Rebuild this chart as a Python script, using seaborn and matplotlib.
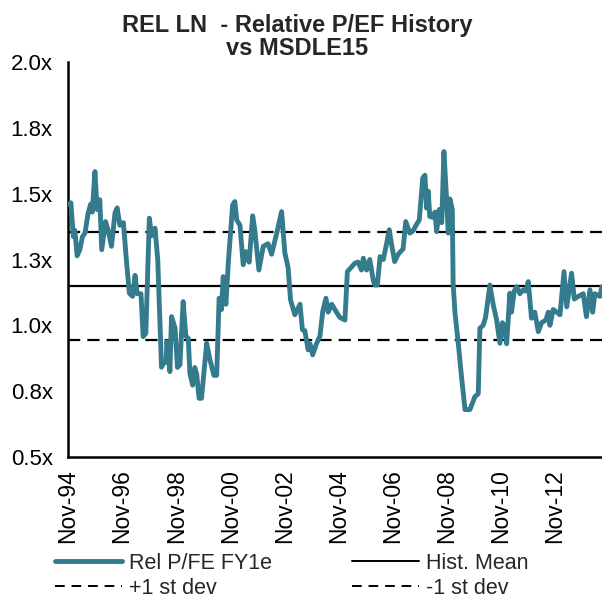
import numpy as np
import pandas as pd
import matplotlib
matplotlib.use("Agg")
import matplotlib.pyplot as plt
from matplotlib.lines import Line2D
import seaborn as sns

# ---------------- data ----------------
# dates as fractional years
dates_dec = [
    1994.84, 1994.94, 1995.03, 1995.09, 1995.17, 1995.27, 1995.37, 1995.46, 1995.58, 1995.67,
    1995.73, 1995.83, 1995.91, 1996.01, 1996.08, 1996.22, 1996.32, 1996.44, 1996.57, 1996.65,
    1996.75, 1996.88, 1997.00, 1997.10, 1997.22, 1997.31, 1997.39, 1997.53, 1997.61, 1997.71,
    1997.84, 1997.92, 1998.05, 1998.15, 1998.29, 1998.38, 1998.46, 1998.49, 1998.60, 1998.66,
    1998.79, 1998.88, 1998.97, 1999.09, 1999.19, 1999.28, 1999.34, 1999.44, 1999.52, 1999.59,
    1999.68, 1999.77, 1999.96, 2000.08, 2000.23, 2000.33, 2000.42, 2000.51, 2000.57, 2000.67,
    2000.76, 2000.92, 2001.00, 2001.07, 2001.19, 2001.31, 2001.41, 2001.53, 2001.66, 2001.74,
    2001.89, 2002.05, 2002.23, 2002.36, 2002.55, 2002.73, 2002.85, 2002.97, 2003.06, 2003.22,
    2003.41, 2003.50, 2003.59, 2003.71, 2003.78, 2003.88, 2004.02, 2004.15, 2004.25, 2004.37,
    2004.45, 2004.58, 2004.76, 2004.88, 2005.07, 2005.16, 2005.44, 2005.56, 2005.68, 2005.75,
    2005.87, 2005.99, 2006.12, 2006.18, 2006.27, 2006.37, 2006.49, 2006.61, 2006.71, 2006.79,
    2006.91, 2007.04, 2007.22, 2007.32, 2007.47, 2007.60, 2007.70, 2007.82, 2007.95, 2008.03,
    2008.09, 2008.15, 2008.21, 2008.34, 2008.40, 2008.46, 2008.56, 2008.65, 2008.73, 2008.83,
    2008.89, 2008.95, 2009.04, 2009.07, 2009.14, 2009.26, 2009.38, 2009.51, 2009.69, 2009.88,
    2010.00, 2010.06, 2010.18, 2010.27, 2010.43, 2010.55, 2010.68, 2010.80, 2010.89, 2010.96,
    2011.05, 2011.17, 2011.23, 2011.33, 2011.42, 2011.54, 2011.66, 2011.76, 2011.85, 2011.97,
    2012.09, 2012.22, 2012.34, 2012.50, 2012.59, 2012.65, 2012.77, 2012.90, 2013.02, 2013.17,
    2013.27, 2013.45, 2013.55, 2013.70, 2013.88, 2014.00, 2014.13, 2014.23, 2014.31, 2014.50,
    2014.57,
]
rel_pe = [
    1.460, 1.465, 1.337, 1.360, 1.264, 1.287, 1.337, 1.350, 1.427, 1.460,
    1.430, 1.584, 1.440, 1.477, 1.287, 1.394, 1.360, 1.300, 1.427, 1.446,
    1.380, 1.390, 1.236, 1.122, 1.110, 1.190, 1.120, 1.120, 0.957, 0.970,
    1.407, 1.340, 1.369, 1.250, 0.841, 0.860, 0.860, 0.938, 0.824, 1.033,
    0.990, 0.840, 0.850, 1.090, 0.960, 0.950, 0.818, 0.773, 0.840, 0.815,
    0.723, 0.723, 0.932, 0.870, 0.810, 0.810, 1.103, 1.060, 1.185, 1.080,
    1.240, 1.458, 1.470, 1.400, 1.380, 1.230, 1.280, 1.240, 1.416, 1.360,
    1.210, 1.300, 1.310, 1.270, 1.350, 1.432, 1.275, 1.220, 1.097, 1.040,
    1.080, 0.983, 0.980, 0.907, 0.930, 0.888, 0.930, 0.960, 1.052, 1.103,
    1.050, 1.080, 1.050, 1.030, 1.020, 1.204, 1.236, 1.240, 1.210, 1.255,
    1.210, 1.250, 1.170, 1.153, 1.153, 1.261, 1.250, 1.310, 1.363, 1.310,
    1.242, 1.270, 1.290, 1.394, 1.350, 1.360, 1.380, 1.400, 1.560, 1.570,
    1.445, 1.510, 1.413, 1.410, 1.430, 1.356, 1.440, 1.390, 1.660, 1.477,
    1.350, 1.480, 1.440, 1.160, 1.046, 0.932, 0.805, 0.680, 0.680, 0.730,
    0.740, 0.989, 1.000, 1.030, 1.153, 1.080, 1.020, 0.932, 1.010, 1.000,
    0.930, 1.122, 1.050, 1.130, 1.147, 1.120, 1.135, 1.130, 1.166, 1.027,
    1.050, 0.976, 1.010, 1.020, 1.050, 1.000, 1.060, 1.050, 1.040, 1.204,
    1.070, 1.198, 1.100, 1.110, 1.120, 1.033, 1.135, 1.050, 1.120, 1.110,
    1.147,
]
hist_mean = 1.150
plus_1sd = 1.356
minus_1sd = 0.944

y_ticks = [0.5, 0.75, 1.0, 1.25, 1.5, 1.75, 2.0]
y_tick_labels = ["0.5x", "0.8x", "1.0x", "1.3x", "1.5x", "1.8x", "2.0x"]
x_tick_dates = [1994.833, 1996.833, 1998.833, 2000.833, 2002.833,
                2004.833, 2006.833, 2008.833, 2010.833, 2012.833]
x_tick_labels = ["Nov-94", "Nov-96", "Nov-98", "Nov-00", "Nov-02",
                 "Nov-04", "Nov-06", "Nov-08", "Nov-10", "Nov-12"]
x_start_dec = 1994.833
x_end_dec = 2014.575

title = "REL LN  - Relative P/EF History\nvs MSDLE15"
series_labels = ["Rel P/FE FY1e", "Hist. Mean", "+1 st dev", "-1 st dev"]


def dec_to_ts(y):
    yr = int(y)
    frac = y - yr
    start = pd.Timestamp(year=yr, month=1, day=1)
    end = pd.Timestamp(year=yr + 1, month=1, day=1)
    return start + (end - start) * frac


df = pd.DataFrame({"date": [dec_to_ts(d) for d in dates_dec], "value": rel_pe})

# ---------------- style ----------------
sns.set_theme(style="white")
plt.rcParams['font.family'] = ['Liberation Sans', 'DejaVu Sans']
TEAL = "#347B8D"
DASH = (0, (5.5, 3.2))

fig = plt.figure(figsize=(6.02, 6.0), dpi=100)
ax = fig.add_axes([68 / 602, 1 - 457 / 600, (602 - 68) / 602, (457 - 62) / 600])

sns.lineplot(data=df, x="date", y="value", ax=ax, color=TEAL, linewidth=3.5,
             legend=False, zorder=3)
ax.axhline(hist_mean, color="black", linewidth=1.6, zorder=2)
ax.axhline(plus_1sd, color="black", linewidth=1.6, linestyle=DASH, zorder=2)
ax.axhline(minus_1sd, color="black", linewidth=1.6, linestyle=DASH, zorder=2)

ax.set_xlim(dec_to_ts(x_start_dec), dec_to_ts(x_end_dec))
ax.set_ylim(0.5, 2.0)
ax.set_yticks(y_ticks)
ax.set_yticklabels(y_tick_labels, fontsize=16)
ax.set_xticks([dec_to_ts(d) for d in x_tick_dates])
ax.set_xticklabels(x_tick_labels, rotation=90, fontsize=16.5)
ax.set_xlabel("")
ax.set_ylabel("")

for s in ["top", "right"]:
    ax.spines[s].set_visible(False)
for s in ["left", "bottom"]:
    ax.spines[s].set_color("black")
    ax.spines[s].set_linewidth(1.8)
ax.tick_params(axis="both", which="major", direction="out", length=4, width=1.5,
               color="black", labelcolor="black")
ax.tick_params(axis="y", pad=7)
ax.tick_params(axis="x", pad=5)
ax.grid(False)

fig.text(297 / 602, 1 - 14 / 600, title, ha="center", va="top", fontsize=17,
         fontweight="bold", linespacing=1.02)

h_rel = Line2D([], [], color=TEAL, linewidth=3.5)
h_mean = Line2D([], [], color="black", linewidth=1.4)
h_dash = Line2D([], [], color="black", linewidth=1.4, linestyle=(0, (5, 3.5)))

common = dict(frameon=False, fontsize=15.5, handlelength=3.1, handletextpad=0.35,
              labelspacing=0.18, borderpad=0, borderaxespad=0, loc="upper left")
fig.legend([h_rel, h_dash], [series_labels[0], series_labels[2]],
           bbox_to_anchor=(55 / 602, 1 - 553 / 600), **common)
fig.legend([h_mean, h_dash], [series_labels[1], series_labels[3]],
           bbox_to_anchor=(352 / 602, 1 - 553 / 600), **common)

fig.savefig("out.png", dpi=100)
